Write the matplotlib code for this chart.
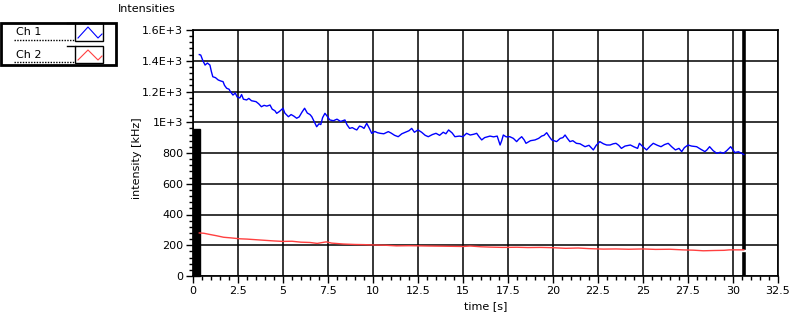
import matplotlib.pyplot as plt
from matplotlib.lines import Line2D
from matplotlib.patches import Rectangle
from matplotlib.ticker import MultipleLocator, FixedLocator

# Ch 1 (blue)
t1 = [0.35, 0.43, 0.55, 0.67, 0.8, 0.94, 1.02, 1.1, 1.25, 1.4, 1.55, 1.67, 1.75, 1.87,
      2.0, 2.1, 2.22, 2.35, 2.45, 2.6, 2.7, 2.8, 2.98, 3.1, 3.25, 3.5, 3.65, 3.8, 3.95,
      4.1, 4.28, 4.4, 4.55, 4.65, 4.8, 5.0, 5.1, 5.3, 5.45, 5.6, 5.76, 5.9, 6.05, 6.2,
      6.35, 6.5, 6.6, 6.75, 6.87, 7.0, 7.1, 7.2, 7.33, 7.45, 7.6, 7.8, 8.0, 8.2, 8.44,
      8.55, 8.7, 8.85, 9.0, 9.1, 9.25, 9.37, 9.5, 9.65, 9.8, 9.93, 10.1, 10.25, 10.4,
      10.6, 10.85, 11.0, 11.2, 11.4, 11.6, 11.8, 12.0, 12.15, 12.3, 12.5, 12.7, 12.9,
      13.07, 13.3, 13.5, 13.7, 13.9, 14.05, 14.2, 14.4, 14.55, 14.8, 15.0, 15.2, 15.4,
      15.6, 15.76, 15.9, 16.04, 16.2, 16.5, 16.7, 16.9, 17.06, 17.15, 17.24, 17.4, 17.6,
      17.8, 17.98, 18.1, 18.26, 18.4, 18.5, 18.75, 19.0, 19.2, 19.37, 19.5, 19.65, 19.8,
      19.93, 20.05, 20.2, 20.4, 20.55, 20.67, 20.8, 20.94, 21.1, 21.3, 21.5, 21.78, 22.0,
      22.24, 22.4, 22.6, 22.8, 22.98, 23.17, 23.35, 23.5, 23.65, 23.8, 24.0, 24.3, 24.5,
      24.7, 24.8, 25.0, 25.2, 25.4, 25.57, 25.8, 26.0, 26.2, 26.4, 26.6, 26.8, 27.0,
      27.15, 27.3, 27.5, 27.7, 27.98, 28.2, 28.44, 28.55, 28.7, 28.9, 29.1, 29.3, 29.47,
      29.65, 29.87, 30.0, 30.1, 30.3, 30.48, 30.6]
ch1 = [1440, 1437, 1400, 1372, 1385, 1372, 1330, 1296, 1290, 1275, 1268, 1264, 1240, 1221,
       1215, 1195, 1177, 1190, 1165, 1158, 1180, 1150, 1145, 1155, 1140, 1134, 1120, 1101, 1110,
       1105, 1112, 1085, 1075, 1058, 1070, 1091, 1060, 1036, 1050, 1040, 1026, 1035, 1065, 1091,
       1060, 1050, 1036, 1000, 971, 990, 985, 1030, 1058, 1040, 1015, 1010, 1020, 1005, 1015,
       985, 960, 965, 955, 950, 975, 971, 960, 993, 960, 928, 940, 932, 928,
       925, 939, 930, 915, 906, 925, 935, 945, 960, 935, 950, 935, 915,
       906, 920, 928, 915, 935, 925, 950, 930, 906, 910, 906, 928, 917,
       922, 928, 905, 885, 900, 910, 905, 910, 852, 880, 917, 905, 906,
       895, 874, 890, 906, 885, 863, 880, 885, 895, 910, 915, 932, 905,
       885, 880, 874, 895, 900, 917, 895, 874, 880, 863, 860, 841, 850,
       820, 850, 874, 860, 852, 852, 860, 863, 850, 830, 845, 852, 840,
       830, 863, 840, 820, 845, 863, 850, 841, 855, 863, 840, 820, 830,
       809, 835, 852, 845, 841, 825, 809, 820, 841, 815, 798, 805, 798,
       815, 841, 820, 803, 808, 798, 790]

# Ch 2 (red)
t2 = [0.35, 0.6, 0.94, 1.3, 1.7, 2.1, 2.6, 3.0, 3.5, 4.0, 4.5, 5.0, 5.5, 6.0, 6.5, 6.9,
      7.2, 7.4, 7.7, 8.35, 9.0, 9.5, 10.0, 10.7, 11.3, 12.0, 12.6, 13.1, 13.8, 14.4, 15.0,
      15.4, 16.0, 16.5, 17.2, 18.0, 18.6, 19.3, 20.0, 20.7, 21.4, 22.0, 22.8, 23.5, 24.2,
      25.0, 25.7, 26.5, 27.2, 27.8, 28.35, 29.0, 29.5, 29.8, 30.1, 30.6]
ch2 = [280, 278, 270, 262, 252, 248, 242, 240, 236, 232, 228, 225, 226, 220, 218, 212,
       218, 222, 214, 208, 205, 204, 202, 200, 196, 197, 196, 195, 194, 193, 192,
       195, 190, 188, 186, 187, 185, 186, 184, 180, 182, 178, 175, 176, 174,
       176, 173, 174, 170, 168, 164, 166, 167, 170, 170, 170]

yticks = [0, 200, 400, 600, 800, 1000, 1200, 1400, 1600]
ylabels = ['0', '200', '400', '600', '800', '1E+3', '1.2E+3', '1.4E+3', '1.6E+3']
xticks = [0, 2.5, 5, 7.5, 10, 12.5, 15, 17.5, 20, 22.5, 25, 27.5, 30, 32.5]
xlabels = ['0', '2.5', '5', '7.5', '10', '12.5', '15', '17.5', '20', '22.5', '25', '27.5', '30', '32.5']

plt.rcParams['font.family'] = ['DejaVu Sans']
W, H = 802, 320
fig = plt.figure(figsize=(W / 100, H / 100), dpi=100)
ax = fig.add_axes([193 / W, 1 - 276 / H, 585 / W, 246 / H])

ax.set_xlim(0, 32.5)
ax.set_ylim(0, 1600)
ax.yaxis.set_major_locator(FixedLocator(yticks))
ax.set_yticklabels(ylabels)
ax.xaxis.set_major_locator(FixedLocator(xticks))
ax.set_xticklabels(xlabels)
ax.yaxis.set_minor_locator(MultipleLocator(40))
ax.xaxis.set_minor_locator(MultipleLocator(0.5))
ax.tick_params(which='major', length=5, width=1, labelsize=8, pad=2, color='black')
ax.tick_params(which='minor', length=3, width=1, color='black')
ax.grid(True, which='major', color='black', linewidth=1.1)
for s in ax.spines.values():
    s.set_linewidth(1.2)

# start marker block and sweep line
ax.add_patch(Rectangle((0, 0), 0.4, 956, color='black', zorder=4, clip_on=False))
ax.plot([30.62, 30.62], [0, 145], color='black', lw=2.6, zorder=4)
ax.plot([30.62, 30.62], [185, 1600], color='black', lw=2.6, zorder=4)

ax.plot(t1, ch1, color='#0000ff', lw=1, zorder=5)
ax.plot(t2, ch2, color='#ff4040', lw=1, zorder=5)

ax.set_ylabel('intensity [kHz]', fontsize=8)
ax.yaxis.set_label_coords(-0.087, 0.48)
ax.set_xlabel('time [s]', fontsize=8, labelpad=4)
fig.text(118 / W, 1 - 9 / H, 'Intensities', fontsize=8, va='center', ha='left')

# legend box drawn in pixel coordinates
lg = fig.add_axes([0, 0, 1, 1])
lg.set_xlim(0, W)
lg.set_ylim(H, 0)
lg.axis('off')
lg.add_patch(Rectangle((1, 23), 115, 42, fill=False, lw=2, ec='black'))
for y0, y1, col, name in [(23, 41, '#0000ff', 'Ch 1'), (46, 63, '#ff4040', 'Ch 2')]:
    lg.add_patch(Rectangle((75, y0), 28, y1 - y0, fill=False, lw=1, ec='black'))
    lg.add_line(Line2D([67, 75], [y0, y0], color='black', lw=1))
    lg.add_line(Line2D([14, 75], [y1 - 1, y1 - 1], color='black', lw=1, ls=(0, (1, 1))))
    lg.add_line(Line2D([78, 88, 98, 102], [y1 - 3, y0 + 4, y1 - 3, y1 - 7], color=col, lw=0.8))
    lg.text(16, (y0 + y1) / 2, name, fontsize=8, va='center', ha='left')

fig.savefig('out.png', dpi=100)
